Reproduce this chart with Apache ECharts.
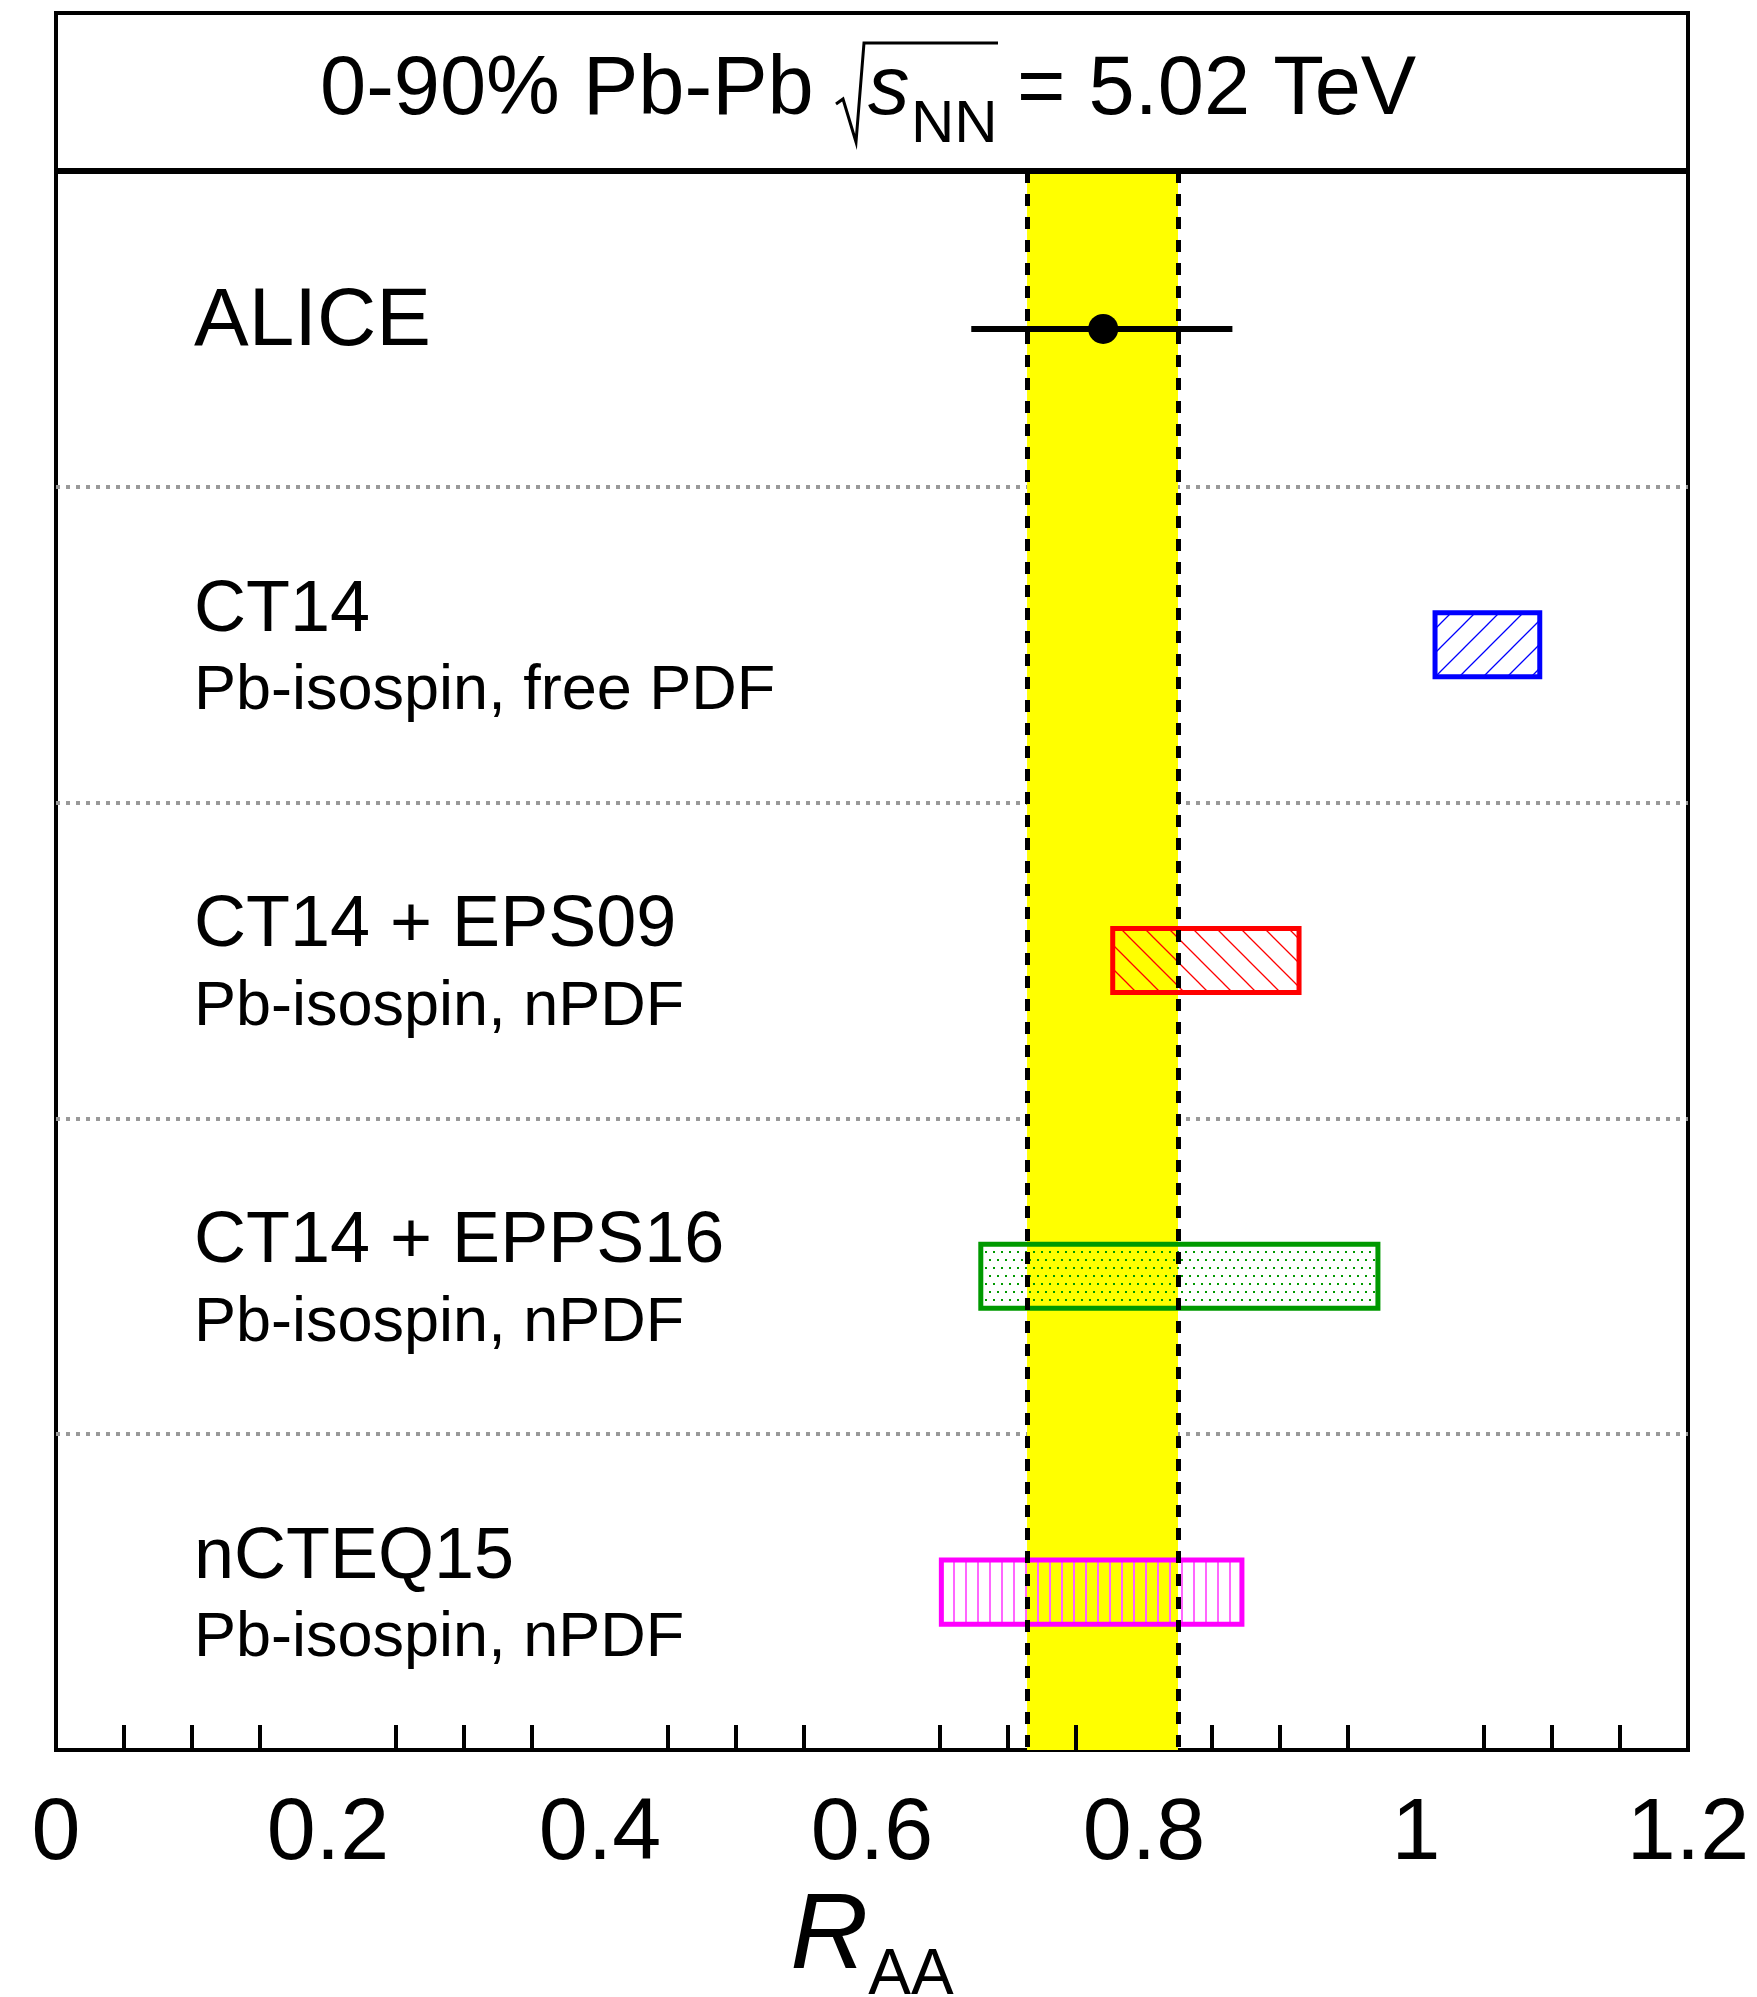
<!DOCTYPE html>
<html>
<head>
<meta charset="utf-8">
<script src="https://cdn.jsdelivr.net/npm/echarts@6/dist/echarts.min.js"></script>
<style>
  html, body { margin: 0; padding: 0; background: #fff; }
  #chart { width: 1757px; height: 1997px; }
</style>
</head>
<body>
<div id="chart"></div>
<script>
const categories = ["ALICE", "CT14", "CT14 + EPS09", "CT14 + EPPS16", "nCTEQ15"];
const subtitles = ["", "Pb-isospin, free PDF", "Pb-isospin, nPDF", "Pb-isospin, nPDF", "Pb-isospin, nPDF"];

// ALICE measurement: central value, error bar and the yellow band
const aliceValue = 0.77;
const aliceErr = [0.673, 0.865];
const aliceBand = [0.714, 0.825];

// model predictions (rows 1..4)
const modelLow = [1.014, 0.777, 0.68, 0.651];
const modelHigh = [1.091, 0.914, 0.972, 0.872];
const modelColors = ["#0000ff", "#ff0000", "#009900", "#ff00ff"];
const modelFills = ["fwd", "back", "dots", "vert"];

const xTickLabels = ["0", "0.2", "0.4", "0.6", "0.8", "1", "1.2"];

const FONT = "Liberation Sans";

function makePattern(kind, color) {
  const c = document.createElement("canvas");
  const ctx = c.getContext("2d");
  if (kind === "fwd" || kind === "back") {
    c.width = 24;
    c.height = 24;
    ctx.strokeStyle = color;
    ctx.lineWidth = 1.3;
    ctx.beginPath();
    if (kind === "fwd") {
      ctx.moveTo(0, 24); ctx.lineTo(24, 0);
      ctx.moveTo(-2, 2); ctx.lineTo(2, -2);
      ctx.moveTo(22, 26); ctx.lineTo(26, 22);
    } else {
      ctx.moveTo(0, 0); ctx.lineTo(24, 24);
      ctx.moveTo(-2, 22); ctx.lineTo(2, 26);
      ctx.moveTo(22, -2); ctx.lineTo(26, 2);
    }
    ctx.stroke();
  } else if (kind === "dots") {
    c.width = 8;
    c.height = 16;
    ctx.fillStyle = color;
    ctx.fillRect(1, 3, 2, 2);
    ctx.fillRect(5, 11, 2, 2);
  } else {
    c.width = 12;
    c.height = 12;
    ctx.fillStyle = "#ff66ff";
    ctx.fillRect(5, 0, 2, 12);
  }
  return { image: c, repeat: "repeat" };
}

const patterns = modelFills.map((k, i) => makePattern(k, modelColors[i]));
const boxData = modelLow.map((v, i) => [v, modelHigh[i], i + 1]);

const chart = echarts.init(document.getElementById("chart"));

chart.setOption({
  animation: false,
  backgroundColor: "#fff",
  grid: {
    left: 56,
    right: 69,
    top: 171,
    bottom: 247,
    outerBoundsMode: "none",
    containLabel: false,
    show: true,
    borderColor: "#000",
    borderWidth: 4,
  },
  xAxis: {
    type: "value",
    min: 0,
    max: 1.2,
    interval: 0.2,
    z: 5,
    axisLine: { lineStyle: { color: "#000", width: 6 } },
    axisTick: { inside: true, length: 52, lineStyle: { color: "#000", width: 4 } },
    minorTick: { show: true, splitNumber: 4, length: 25, lineStyle: { color: "#000", width: 4 } },
    splitLine: { show: false },
    axisLabel: {
      color: "#000",
      fontFamily: FONT,
      fontSize: 88,
      margin: 41,
      formatter: (v) => xTickLabels[Math.round(v / 0.2)],
    },
    name: "{r|R}{n|AA}",
    nameLocation: "middle",
    nameGap: 134,
    nameTextStyle: {
      rich: {
        r: { fontFamily: FONT, fontSize: 108, fontStyle: "italic", color: "#000", lineHeight: 110, verticalAlign: "top" },
        n: { fontFamily: FONT, fontSize: 64, color: "#000", lineHeight: 184 },
      },
    },
  },
  yAxis: {
    type: "category",
    inverse: true,
    data: categories,
    axisLine: { show: false },
    axisTick: { show: false },
    splitLine: {
      show: true,
      showMinLine: false,
      showMaxLine: false,
      lineStyle: { color: "#999999", width: 4, type: [4, 6] },
    },
    axisLabel: {
      inside: true,
      margin: 138,
      align: "left",
      formatter: (v, i) => (subtitles[i] ? "{t|" + v + "}\n{s|" + subtitles[i] + "}" : "{a|" + v + "}"),
      rich: {
        a: { fontFamily: FONT, fontSize: 82, color: "#000", lineHeight: 90, padding: [0, 0, 14, 0] },
        t: { fontFamily: FONT, fontSize: 72, color: "#000", lineHeight: 94 },
        s: { fontFamily: FONT, fontSize: 63, color: "#000", lineHeight: 68 },
      },
    },
  },
  graphic: [
    {
      type: "rect",
      z: 100,
      shape: { x: 56, y: 13, width: 1632, height: 158 },
      style: { fill: null, stroke: "#000", lineWidth: 4 },
    },
    {
      type: "line",
      z: 100,
      shape: { x1: 54, y1: 171, x2: 1690, y2: 171 },
      style: { stroke: "#000", lineWidth: 6 },
    },
    {
      type: "polyline",
      z: 100,
      shape: { points: [[836, 104], [843, 99], [856, 142], [864, 43], [998, 43]] },
      style: { fill: null, stroke: "#000", lineWidth: 3 },
    },
    {
      type: "text", z: 100, x: 320, y: 91,
      style: { text: "0-90% Pb-Pb", font: "83px " + FONT, fill: "#000", verticalAlign: "middle", align: "left" },
    },
    {
      type: "text", z: 100, x: 868, y: 91,
      style: { text: "s", font: "italic 83px " + FONT, fill: "#000", verticalAlign: "middle", align: "left" },
    },
    {
      type: "text", z: 100, x: 911, y: 125,
      style: { text: "NN", font: "60px " + FONT, fill: "#000", verticalAlign: "middle", align: "left" },
    },
    {
      type: "text", z: 100, x: 1017, y: 91,
      style: { text: "= 5.02 TeV", font: "83px " + FONT, fill: "#000", verticalAlign: "middle", align: "left" },
    },
  ],
  series: [
    {
      // yellow band
      type: "line",
      data: [],
      z: 1,
      markArea: {
        silent: true,
        z: 1,
        itemStyle: { color: "#ffff00" },
        data: [[{ xAxis: aliceBand[0] }, { xAxis: aliceBand[1] }]],
      },
    },
    {
      type: "custom",
      z: 2,
      data: boxData,
      renderItem: function (params, api) {
        const i = params.dataIndex;
        const lo = api.coord([api.value(0), api.value(2)]);
        const hi = api.coord([api.value(1), api.value(2)]);
        const h = api.size([0, 1])[1] * 0.203;
        return {
          type: "rect",
          shape: { x: lo[0], y: lo[1] - h / 2, width: hi[0] - lo[0], height: h },
          style: { fill: patterns[i], stroke: modelColors[i], lineWidth: 5 },
        };
      },
    },
    {
      // dashed edges of the band
      type: "line",
      data: [],
      z: 5,
      markLine: {
        silent: true,
        z: 5,
        precision: 4,
        symbol: "none",
        label: { show: false },
        lineStyle: { color: "#000", width: 5, type: [12, 11] },
        data: [{ xAxis: aliceBand[0] }, { xAxis: aliceBand[1] }],
      },
    },
    {
      type: "custom",
      z: 6,
      data: [[aliceErr[0], aliceErr[1], 0]],
      renderItem: function (params, api) {
        const lo = api.coord([api.value(0), api.value(2)]);
        const hi = api.coord([api.value(1), api.value(2)]);
        return {
          type: "line",
          shape: { x1: lo[0], y1: lo[1], x2: hi[0], y2: hi[1] },
          style: { stroke: "#000", lineWidth: 6 },
        };
      },
    },
    {
      type: "scatter",
      z: 7,
      symbol: "circle",
      symbolSize: 30,
      itemStyle: { color: "#000", opacity: 1 },
      data: [[aliceValue, 0]],
    },
  ],
});
</script>
</body>
</html>
